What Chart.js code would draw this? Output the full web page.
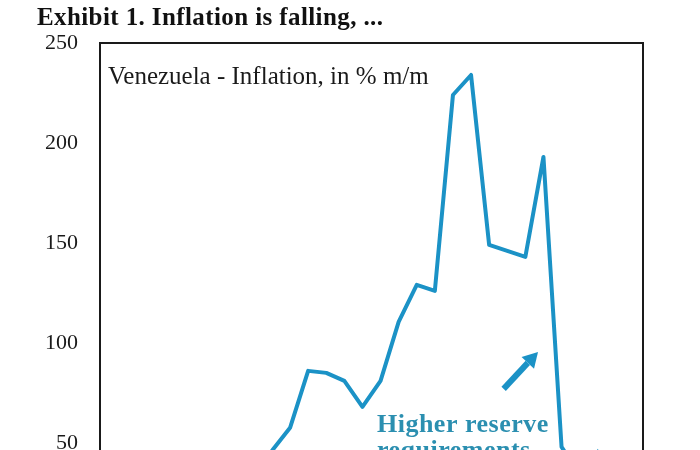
<!DOCTYPE html>
<html>
<head>
<meta charset="utf-8">
<script src="https://cdn.jsdelivr.net/npm/chart.js@4.4.0/dist/chart.umd.min.js"></script>
<style>
  html, body { margin: 0; padding: 0; background: #fff; overflow: hidden; }
  canvas { display: block; }
</style>
</head>
<body>
<canvas id="chart" width="700" height="578"></canvas>
<script>
// monthly inflation, % m/m (values below ~45 are cut off in the picture, estimated)
let months = ['Jan 17','Feb 17','Mar 17','Apr 17','May 17','Jun 17','Jul 17','Aug 17','Sep 17','Oct 17',
              'Nov 17','Dec 17','Jan 18','Feb 18','Mar 18','Apr 18','May 18','Jun 18','Jul 18','Aug 18',
              'Sep 18','Oct 18','Nov 18','Dec 18','Jan 19','Feb 19','Mar 19','Apr 19','May 19','Jun 19'];
let inflation = [20, 22, 18, 24, 26, 21, 24, 33, 37, 46,
                 57.5, 86, 85, 81, 68, 81, 110.5, 129, 126, 224,
                 234, 149, 146, 143, 193, 48, 34, 24, 31, 25];
let yTicks = [0, 50, 100, 150, 200, 250];

let title = 'Exhibit 1. Inflation is falling, ...';
let seriesLabel = 'Venezuela - Inflation, in % m/m';
let note = ['Higher reserve', 'requirements'];

const blue = '#1b92c6';
const teal = '#2b8fb0';

function arrow(ctx, x0, y0, x1, y1, w, headLen, headW) {
  let ang = Math.atan2(y1 - y0, x1 - x0);
  let bx = x1 - Math.cos(ang) * headLen;
  let by = y1 - Math.sin(ang) * headLen;
  ctx.lineWidth = w;
  ctx.lineCap = 'butt';
  ctx.beginPath();
  ctx.moveTo(x0, y0);
  ctx.lineTo(bx, by);
  ctx.stroke();
  ctx.beginPath();
  ctx.moveTo(x1, y1);
  ctx.lineTo(bx + Math.sin(ang) * headW / 2, by - Math.cos(ang) * headW / 2);
  ctx.lineTo(bx - Math.sin(ang) * headW / 2, by + Math.cos(ang) * headW / 2);
  ctx.closePath();
  ctx.fill();
}

const overlay = {
  id: 'overlay',
  afterDraw(chart) {
    const ctx = chart.ctx, a = chart.chartArea;
    const xs = chart.scales.x, ys = chart.scales.y;
    ctx.save();
    // plot frame
    ctx.strokeStyle = '#1a1a1a';
    ctx.lineWidth = 2;
    ctx.strokeRect(a.left, a.top, a.right - a.left, a.bottom - a.top);

    ctx.textBaseline = 'alphabetic';
    ctx.textAlign = 'left';
    ctx.fillStyle = '#111';
    ctx.font = 'bold 25px "Liberation Serif"';
    ctx.letterSpacing = '0.4px';
    ctx.fillText(title, 37, 25);

    ctx.letterSpacing = '0px';
    ctx.font = '25px "Liberation Serif"';
    ctx.fillStyle = '#1a1a1a';
    ctx.fillText(seriesLabel, a.left + 8, 84);

    // annotation
    ctx.fillStyle = teal;
    ctx.font = 'bold 26px "Liberation Serif"';
    ctx.letterSpacing = '0.5px';
    ctx.fillText(note[0], xs.getPixelForValue(14.8), ys.getPixelForValue(55.5));
    ctx.fillText(note[1], xs.getPixelForValue(14.8), ys.getPixelForValue(42.5));
    ctx.letterSpacing = '0px';

    ctx.strokeStyle = blue;
    ctx.fillStyle = blue;
    arrow(ctx, xs.getPixelForValue(21.8), ys.getPixelForValue(77),
               xs.getPixelForValue(23.7), ys.getPixelForValue(95.5), 6, 15, 17);
    arrow(ctx, xs.getPixelForValue(27), ys.getPixelForValue(30),
               xs.getPixelForValue(27), ys.getPixelForValue(47), 4, 12, 13);
    ctx.restore();
  }
};

new Chart(document.getElementById('chart'), {
  type: 'line',
  data: {
    labels: months,
    datasets: [{
      data: inflation,
      borderColor: blue,
      borderWidth: 4,
      borderJoinStyle: 'round',
      pointRadius: 0,
      tension: 0,
      fill: false
    }]
  },
  options: {
    responsive: false,
    animation: false,
    layout: { padding: { top: 43, right: 57, bottom: 20, left: 0 } },
    plugins: { legend: { display: false }, tooltip: { enabled: false } },
    scales: {
      x: {
        display: false,
        offset: true
      },
      y: {
        min: yTicks[0],
        max: yTicks[yTicks.length - 1],
        afterFit(scale) { scale.width = 100; },
        grid: { display: false, drawTicks: false },
        border: { display: false },
        ticks: {
          stepSize: 50,
          padding: 22,
          color: '#1a1a1a',
          font: { family: '"Liberation Serif"', size: 22 }
        }
      }
    }
  },
  plugins: [overlay]
});
</script>
</body>
</html>
